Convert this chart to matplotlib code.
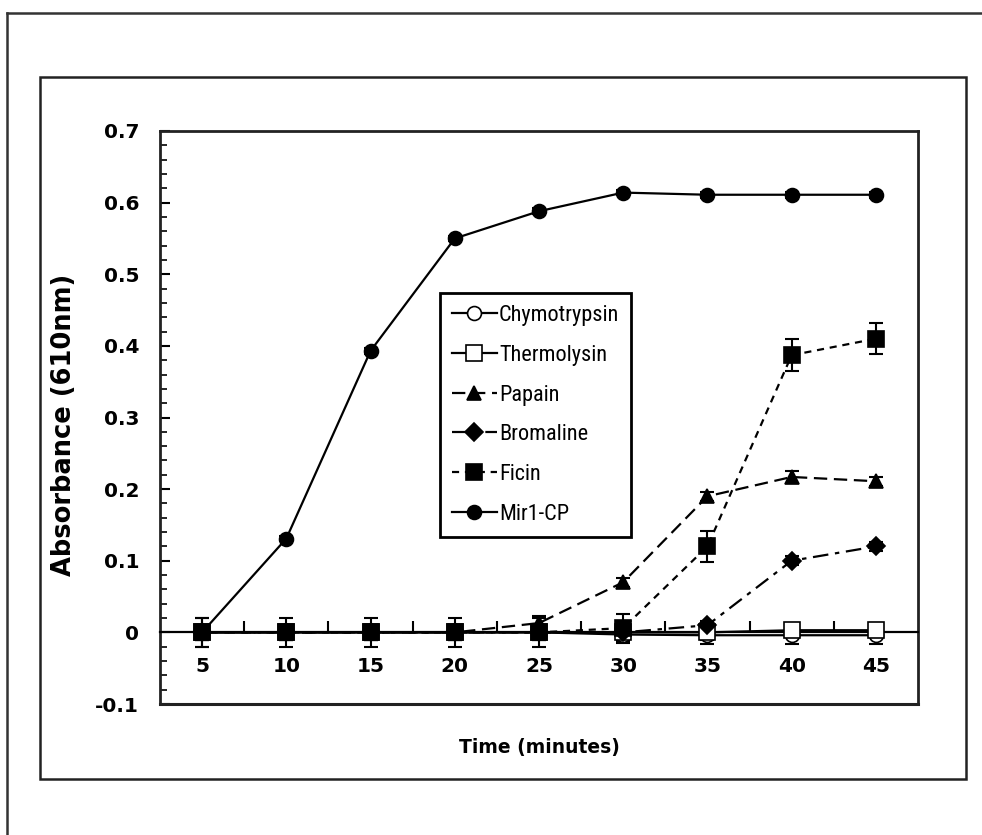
import matplotlib
matplotlib.use("Agg")
import matplotlib.pyplot as plt
from matplotlib.lines import Line2D
from matplotlib.patches import Rectangle
from matplotlib import font_manager

# --- data ---------------------------------------------------------------
time_labels = ["5", "10", "15", "20", "25", "30", "35", "40", "45"]

chymotrypsin = [0.0, 0.0, 0.0, 0.0, 0.0, -0.003, -0.004, -0.004, -0.004]
thermolysin = [0.0, 0.0, 0.0, 0.0, 0.0, 0.0, 0.0, 0.003, 0.003]
papain = [0.0, 0.0, 0.0, 0.0, 0.013, 0.07, 0.19, 0.217, 0.211]
bromaline = [0.0, 0.0, 0.0, 0.0, 0.0, 0.0, 0.01, 0.10, 0.12]
ficin = [0.0, 0.0, 0.0, 0.0, 0.0, 0.006, 0.12, 0.387, 0.41]
mir1_cp = [0.0, 0.131, 0.393, 0.55, 0.588, 0.614, 0.611, 0.611, 0.611]

chymotrypsin_err = [0.01, 0.01, 0.01, 0.01, 0.01, 0.012, 0.012, 0.012, 0.012]
thermolysin_err = [0.01, 0.01, 0.01, 0.01, 0.01, 0.01, 0.01, 0.01, 0.01]
papain_err = [0.01, 0.01, 0.01, 0.01, 0.01, 0.006, 0.006, 0.008, 0.006]
bromaline_err = [0.01, 0.01, 0.01, 0.01, 0.01, 0.01, 0.006, 0.006, 0.006]
ficin_err = [0.02, 0.02, 0.02, 0.02, 0.02, 0.02, 0.022, 0.022, 0.022]
mir1_cp_err = [0.02, 0.004, 0.004, 0.004, 0.004, 0.004, 0.004, 0.004, 0.004]

y_ticks = [-0.1, 0, 0.1, 0.2, 0.3, 0.4, 0.5, 0.6, 0.7]
y_tick_labels = ["-0.1", "0", "0.1", "0.2", "0.3", "0.4", "0.5", "0.6", "0.7"]

# --- fonts --------------------------------------------------------------
available = {f.name for f in font_manager.fontManager.ttflist}


def first_font(names, default):
    for n in names:
        if n in available:
            return n
    return default


narrow = first_font(["Liberation Sans Narrow", "Roboto Condensed",
                     "Open Sans Condensed", "DejaVu Sans Condensed"], None)
condensed_bold = first_font(["DejaVu Sans Condensed"], None)

plt.rcParams["font.family"] = ["DejaVu Sans"]

fig = plt.figure(figsize=(9.82, 8.35), dpi=100)
W, H = 982, 835


def fx(px):
    return px / W


def fy(py):
    return 1 - py / H


# page frames
fig.add_artist(Line2D([fx(7), fx(7)], [fy(13), fy(835)], color="#333333", lw=1.8))
fig.add_artist(Line2D([fx(7), fx(982)], [fy(13), fy(13)], color="#333333", lw=1.8))
fig.add_artist(Rectangle((fx(40), fy(779)), fx(966) - fx(40), fy(77) - fy(779),
                         fill=False, edgecolor="#222222", lw=1.8))

ax = fig.add_axes([fx(160), fy(704), fx(918) - fx(160), fy(131) - fy(704)])

x = list(range(1, len(time_labels) + 1))

series = [
    ("Chymotrypsin", chymotrypsin, chymotrypsin_err, "o", "white", "-", 10),
    ("Thermolysin", thermolysin, thermolysin_err, "s", "white", "-", 11),
    ("Papain", papain, papain_err, "^", "black", (0, (6, 3)), 10),
    ("Bromaline", bromaline, bromaline_err, "D", "black", (0, (7, 3, 2, 3)), 9),
    ("Ficin", ficin, ficin_err, "s", "black", (0, (3.2, 2.6)), 11),
    ("Mir1-CP", mir1_cp, mir1_cp_err, "o", "black", "-", 10),
]

handles = []
for name, vals, err, mk, face, ls, ms in series:
    ax.errorbar(x, vals, yerr=err, fmt="none", ecolor="black", elinewidth=1.5,
                capsize=5, capthick=1.5, zorder=3)
    ln, = ax.plot(x, vals, linestyle=ls, color="black", lw=1.6, marker=mk,
                  markersize=ms, markerfacecolor=face, markeredgecolor="black",
                  markeredgewidth=1.2, label=name, zorder=4)
    handles.append(ln)

ax.set_xlim(0.5, len(time_labels) + 0.5)
ax.set_ylim(-0.1, 0.7)

# x axis crosses at zero; outer frame stays at the plot edges
ax.spines["bottom"].set_position(("data", 0))
ax.spines["bottom"].set_linewidth(1.6)
ax.add_line(Line2D([0, 1], [0, 0], transform=ax.transAxes, color="#222222", lw=2.2,
                   clip_on=False))
for s in ("left", "top", "right"):
    ax.spines[s].set_linewidth(2.0)
    ax.spines[s].set_color("#222222")

ax.set_xticks(x)
ax.set_xticklabels(time_labels, fontsize=14.5, fontweight="bold")
ax.set_xticks([i + 0.5 for i in x[:-1]], minor=True)
ax.tick_params(axis="x", which="major", length=0, pad=18)
ax.tick_params(axis="x", which="minor", direction="in", length=8, width=1.5)

ax.set_yticks(y_ticks)
ax.set_yticklabels(y_tick_labels, fontsize=14.5, fontweight="bold")
ax.set_yticks([round(-0.1 + 0.02 * i, 2) for i in range(41)], minor=True)
ax.tick_params(axis="y", which="major", direction="in", length=7, width=1.5, pad=15)
ax.tick_params(axis="y", which="minor", direction="in", length=5, width=1.2)

if condensed_bold:
    fig.text(fx(539), fy(748), "Time (minutes)", ha="center", va="center",
             fontsize=15, fontweight="bold", family=condensed_bold)
else:
    fig.text(fx(539), fy(748), "Time (minutes)", ha="center", va="center",
             fontsize=13.5, fontweight="bold")
fig.text(fx(64), fy(425), "Absorbance (610nm)", ha="center", va="center",
         rotation=90, fontsize=18.5, fontweight="bold")

if narrow:
    leg_prop = {"family": narrow, "size": 16}
else:
    leg_prop = {"family": "Liberation Sans", "size": 15}

leg = ax.legend(handles=handles, loc="upper left",
                bbox_to_anchor=((440 - 160) / 758, (704 - 293) / 573),
                frameon=True, fancybox=False, edgecolor="black",
                prop=leg_prop, handlelength=2.0,
                handletextpad=0.1, labelspacing=0.84, borderpad=0.55,
                borderaxespad=0, framealpha=1)
leg.get_frame().set_linewidth(2.0)

fig.savefig("out.png", dpi=100, facecolor="white")
